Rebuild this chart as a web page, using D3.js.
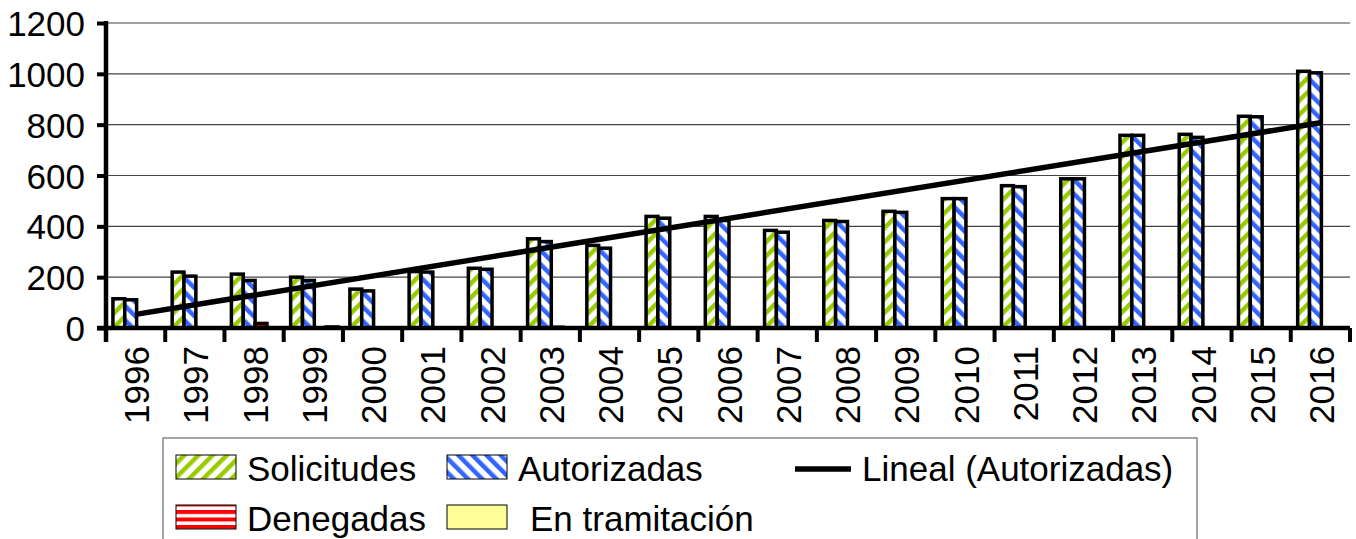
<!DOCTYPE html>
<html>
<head>
<meta charset="utf-8">
<script src="https://cdn.jsdelivr.net/npm/d3@7"></script>
<style>
  body { margin: 0; background: #fff; }
  svg text { font-family: "Liberation Sans", Arial, sans-serif; fill: #000; }
</style>
</head>
<body>
<div id="chart"></div>
<script>
// values
const years = ["1996","1997","1998","1999","2000","2001","2002","2003","2004","2005","2006",
  "2007","2008","2009","2010","2011","2012","2013","2014","2015","2016"];
const solicitudes = [115,220,212,200,153,222,235,351,325,439,439,384,423,459,509,560,587,758,762,833,1010];
const autorizadas = [111,204,187,187,146,220,231,340,314,432,423,377,419,455,509,556,587,758,750,831,1004];
const denegadas   = [0,0,18,0,0,0,0,3,0,0,0,0,0,0,0,0,0,0,0,0,0];
const tramitacion = [0,0,0,4,0,0,0,0,0,0,0,0,0,0,0,0,0,0,0,0,0];
const seriesNames = ["Solicitudes","Autorizadas","Denegadas","En tramitación"];
const yTicks = [0,200,400,600,800,1000,1200];

const width = 1356, height = 539;
const margin = {left: 106, right: 6, top: 23, bottom: 211};

const svg = d3.select("#chart").append("svg")
  .attr("width", width)
  .attr("height", height);

// patterns
const defs = svg.append("defs");
function stripes(id, color, angle, size, w) {
  const p = defs.append("pattern")
    .attr("id", id)
    .attr("patternUnits", "userSpaceOnUse")
    .attr("width", size).attr("height", size)
    .attr("patternTransform", `rotate(${angle})`);
  p.append("rect").attr("width", size).attr("height", size).attr("fill", "#fff");
  p.append("rect").attr("width", w).attr("height", size).attr("fill", color);
}
stripes("pSol", "#99cc00", 45, 10, 4.5);
stripes("pAut", "#3366ff", -45, 10, 4.5);
stripes("pDen", "#ff0000", 90, 7.5, 4);

const fills = ["url(#pSol)", "url(#pAut)", "url(#pDen)", "#ffff99"];
const data = years.map((yr, i) => ({
  year: yr,
  vals: [solicitudes[i], autorizadas[i], denegadas[i], tramitacion[i]]
}));

const x0 = d3.scaleBand().domain(years)
  .range([margin.left, width - margin.right])
  .paddingInner(0.2).paddingOuter(0.1);
const x1 = d3.scaleBand().domain(d3.range(4)).range([0, x0.bandwidth()]);
const y = d3.scaleLinear().domain([0, 1200]).range([328, margin.top]);
const step = x0.step();
const xStart = margin.left, xEnd = width - margin.right;

// gridlines
svg.append("g").selectAll("line")
  .data(yTicks.filter(d => d > 0))
  .join("line")
  .attr("x1", xStart).attr("x2", xEnd)
  .attr("y1", d => y(d)).attr("y2", d => y(d))
  .attr("stroke", "#444").attr("stroke-width", 1.2);

// bars
const groups = svg.append("g").selectAll("g")
  .data(data)
  .join("g")
  .attr("transform", d => `translate(${x0(d.year) + 1},0)`);
groups.selectAll("rect")
  .data(d => d.vals.map((v, k) => ({v, k})))
  .join("rect")
  .filter(d => d.v > 0)
  .attr("x", d => x1(d.k))
  .attr("width", x1.bandwidth())
  .attr("y", d => y(d.v))
  .attr("height", d => y(0) - y(d.v))
  .attr("fill", d => fills[d.k])
  .attr("stroke", "#000")
  .attr("stroke-width", 3.5);

// linear trend of Autorizadas
const xs = d3.range(years.length);
const mx = d3.mean(xs), my = d3.mean(autorizadas);
const slope = d3.sum(xs, i => (i - mx) * (autorizadas[i] - my)) / d3.sum(xs, i => (i - mx) ** 2);
const icpt = my - slope * mx;
const cx = i => x0(years[i]) + x0.bandwidth() / 2;
svg.append("line")
  .attr("x1", cx(0)).attr("y1", y(icpt))
  .attr("x2", cx(years.length - 1)).attr("y2", y(icpt + slope * (years.length - 1)))
  .attr("stroke", "#000").attr("stroke-width", 5.5);

// y axis
const yAxis = svg.append("g")
  .attr("transform", `translate(${xStart},0)`)
  .call(d3.axisLeft(y).tickValues(yTicks).tickSize(9).tickPadding(12).tickFormat(d3.format("d")));
yAxis.select(".domain").remove();
yAxis.selectAll(".tick line").attr("stroke", "#000").attr("stroke-width", 4);
yAxis.selectAll("text").attr("font-size", 35).attr("dy", "0.36em")
  .style("font-family", "'Liberation Sans', Arial, sans-serif");
svg.append("line")
  .attr("x1", xStart).attr("x2", xStart)
  .attr("y1", margin.top - 2).attr("y2", 342)
  .attr("stroke", "#000").attr("stroke-width", 4.5);

// x axis
svg.append("line")
  .attr("x1", xStart - 9).attr("x2", xEnd)
  .attr("y1", y(0)).attr("y2", y(0))
  .attr("stroke", "#000").attr("stroke-width", 4.5);
svg.append("g").selectAll("line")
  .data(d3.range(years.length + 1))
  .join("line")
  .attr("x1", i => xStart + i * step).attr("x2", i => xStart + i * step)
  .attr("y1", y(0)).attr("y2", 342)
  .attr("stroke", "#000").attr("stroke-width", 4);
svg.append("g").selectAll("text")
  .data(years)
  .join("text")
  .attr("transform", d => `translate(${x0(d) + x0.bandwidth() / 2 + 1},346) rotate(-90)`)
  .attr("text-anchor", "end")
  .attr("dy", "0.36em")
  .attr("font-size", 35)
  .text(d => d);

// legend
const lg = svg.append("g");
lg.append("rect")
  .attr("x", 163).attr("y", 438)
  .attr("width", 1034).attr("height", 130)
  .attr("fill", "#fff").attr("stroke", "#888").attr("stroke-width", 1.5);
const legendPos = [
  {x: 176, y: 455}, {x: 447, y: 455}, {x: 176, y: 505}, {x: 447, y: 505}
];
seriesNames.forEach((name, k) => {
  const p = legendPos[k];
  lg.append("rect")
    .attr("x", p.x).attr("y", p.y).attr("width", 60).attr("height", 24)
    .attr("fill", fills[k]).attr("stroke", "#000").attr("stroke-width", 1);
  lg.append("text")
    .attr("x", p.x + 71 + (k === 3 ? 12 : 0)).attr("y", p.y + 13)
    .attr("dy", "0.36em")
    .attr("font-size", 35)
    .text(name);
});
lg.append("line")
  .attr("x1", 795).attr("x2", 851).attr("y1", 469).attr("y2", 469)
  .attr("stroke", "#000").attr("stroke-width", 5.5);
lg.append("text")
  .attr("x", 862).attr("y", 468).attr("dy", "0.36em")
  .attr("font-size", 35)
  .text("Lineal (Autorizadas)");
</script>
</body>
</html>
